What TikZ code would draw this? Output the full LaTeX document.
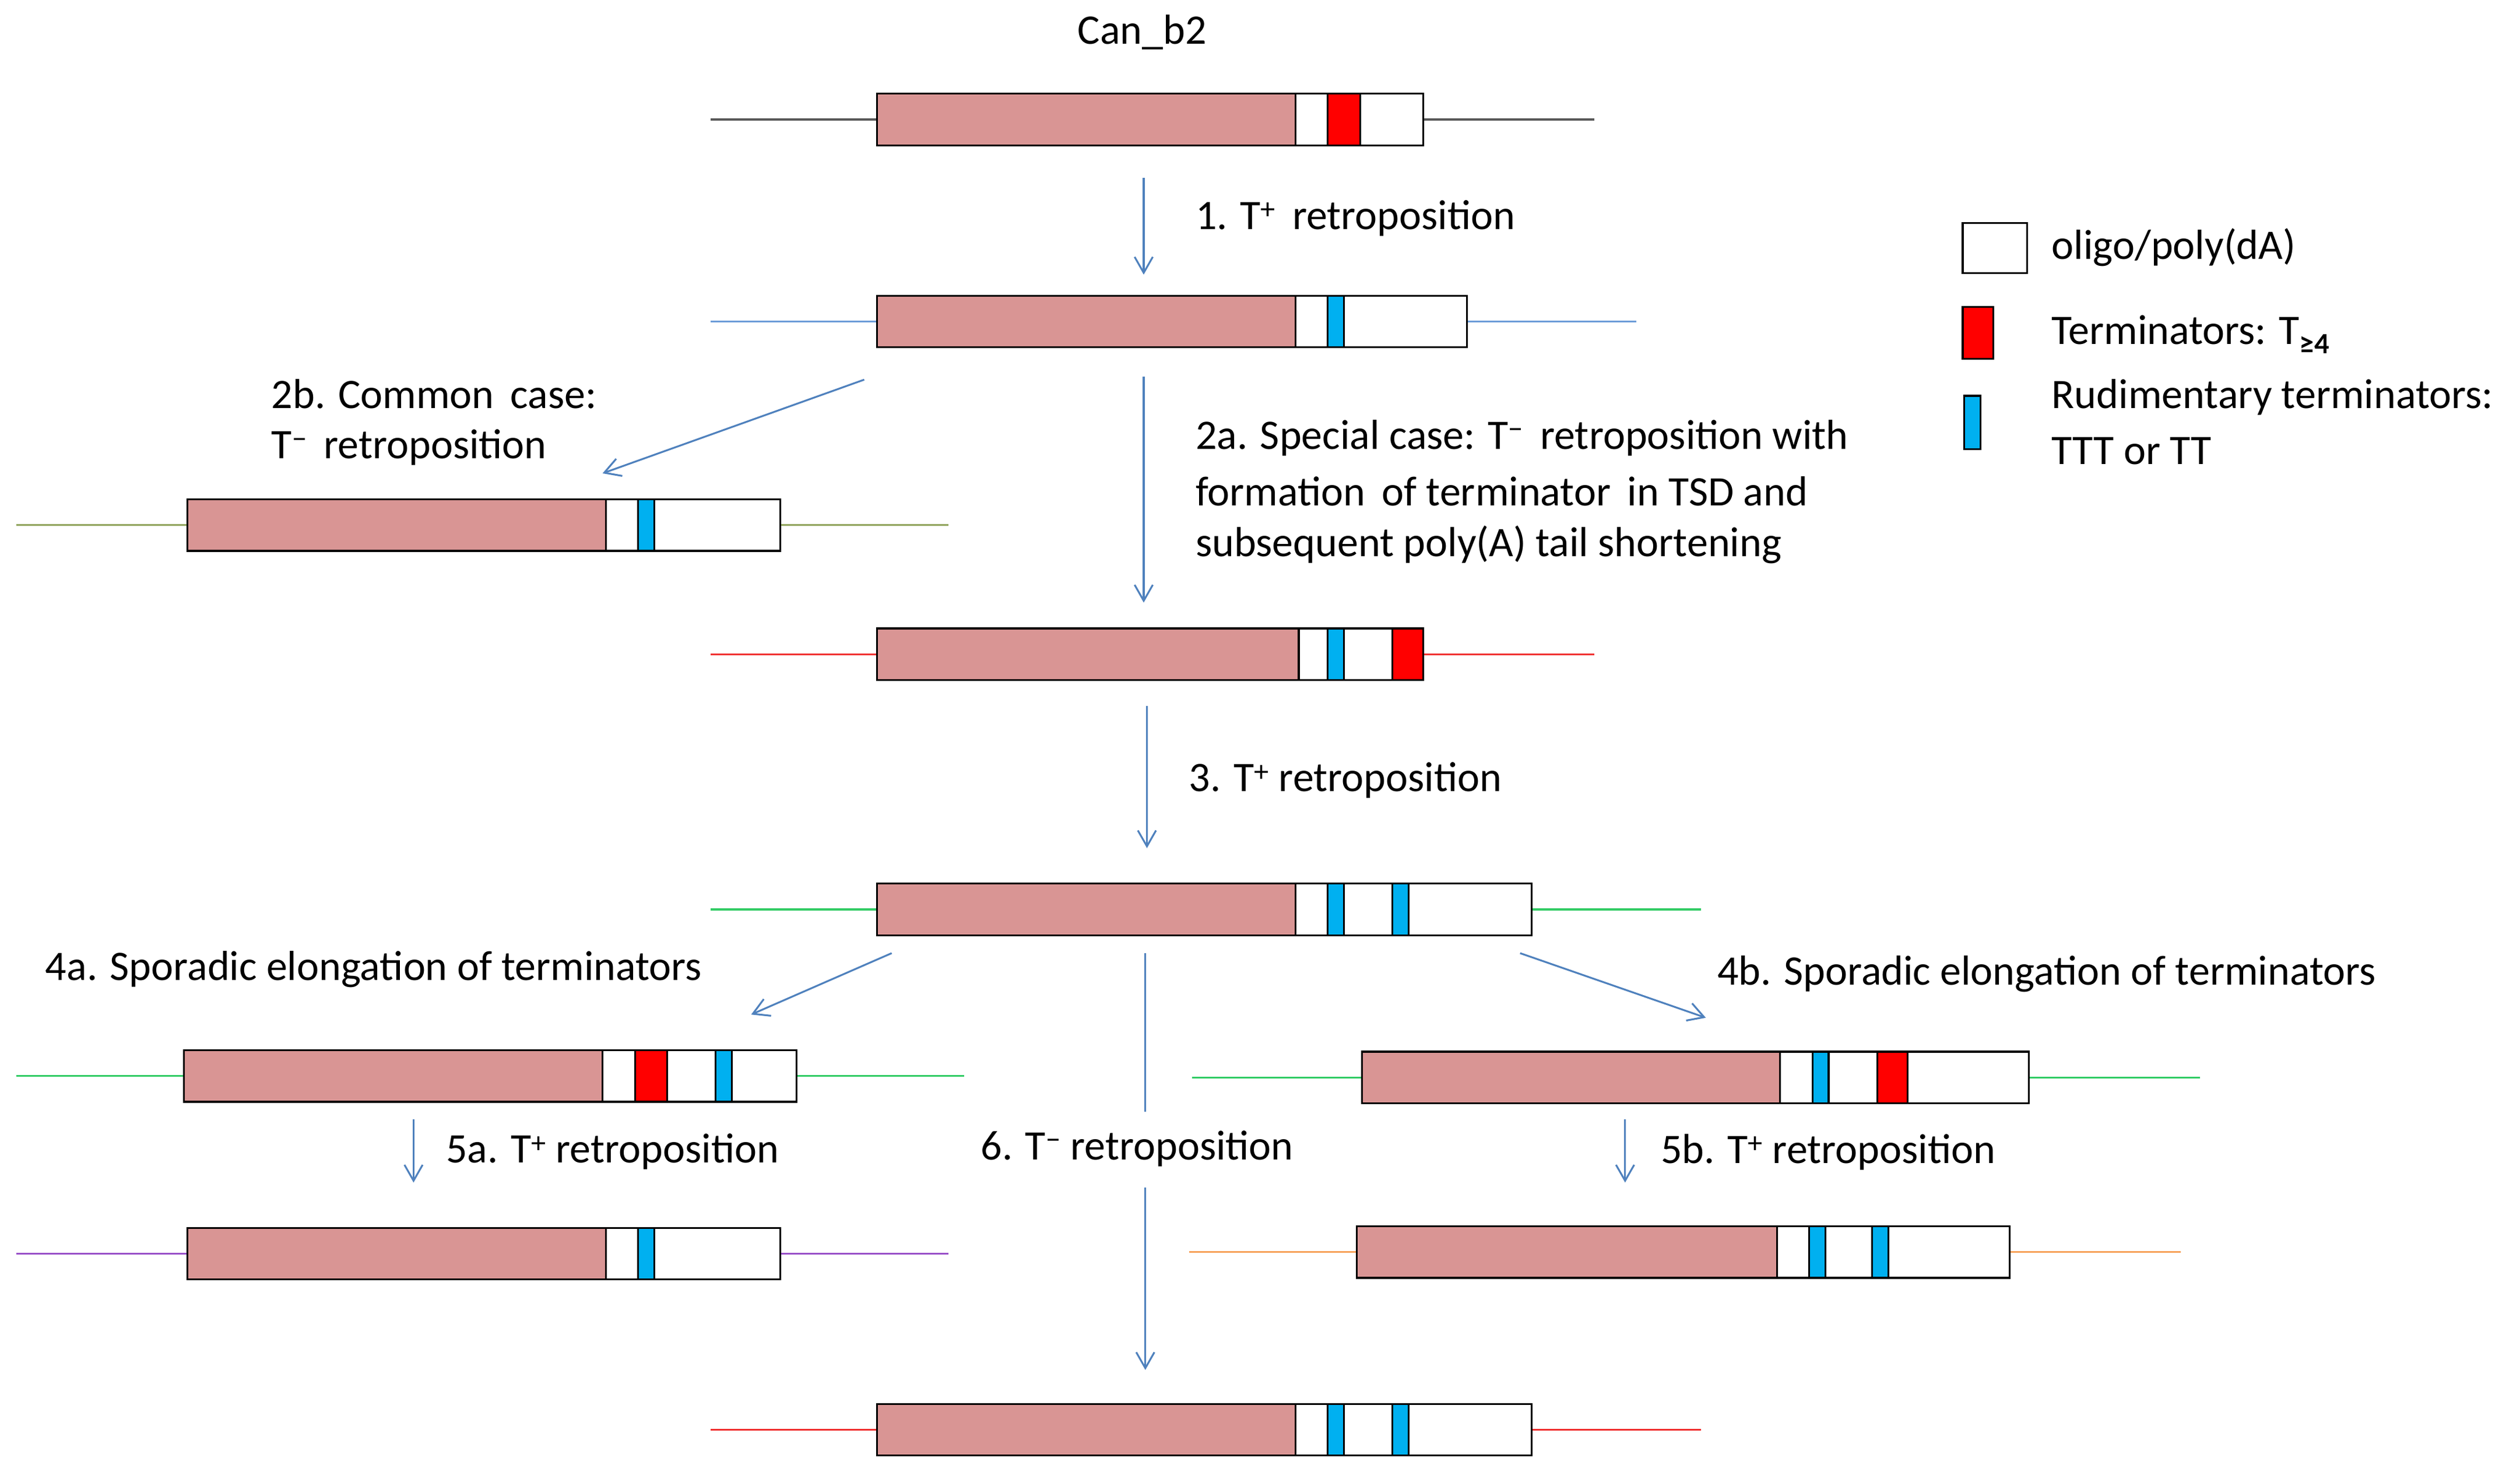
\documentclass[tikz,border=0pt]{standalone}
\usepackage{fontspec}
\setmainfont{Carlito}
\usetikzlibrary{arrows.meta}
\definecolor{pk}{HTML}{D99594}
\definecolor{ar}{HTML}{4F81BD}
\definecolor{tb}{HTML}{00B0F0}
\definecolor{lgray}{HTML}{595959}
\definecolor{lblue}{HTML}{6A9BD8}
\definecolor{lolive}{HTML}{8FA35A}
\definecolor{lred}{HTML}{F03030}
\definecolor{lgreen}{HTML}{33CC66}
\definecolor{lpurple}{HTML}{9A52C9}
\definecolor{lorange}{HTML}{F7A35C}
\begin{document}
\begin{tikzpicture}[x={(0.05cm,0)},y={(0,-0.05cm)},
  box/.style={draw=black,line width=1.6pt},
  fl/.style={line width=1.8pt},
  arr/.style={draw=ar,line width=1.6pt,-{Straight Barb[length=14pt,width=16pt]}},
  lab/.style={anchor=west,inner sep=0,font=\fontsize{37}{44}\selectfont}]
\useasboundingbox (0,0) rectangle (1560,911);
\newcommand\gene[8]{%
  \draw[fl,#2] (#3,#1) -- (#4,#1);
  \fill[pk] (#5,#1-16) rectangle (#6,#1+16);
  \draw[box] (#5,#1-16) rectangle (#6,#1+16);
  \draw[box,fill=white] (#6,#1-16) rectangle (#7,#1+16);
  \foreach \a/\b/\c in {#8}{\draw[box,fill=\c] (\a,#1-16) rectangle (\b,#1+16);}
}
\node[lab,anchor=center] (t0) at (707,20) {Can\_b2};
\gene{74}{lgray}{440}{987}{543}{802}{881}{822/842/red}
\gene{199}{lblue}{440}{1013}{543}{802}{908}{822/832/tb}
\gene{325}{lolive}{10}{587}{116}{375}{483}{395/405/tb}
\gene{405}{lred}{440}{987}{543}{804}{881}{822/832/tb,862/881/red}
\gene{563}{lgreen}{440}{1053}{543}{802}{948}{822/832/tb,862/872/tb}
\gene{666}{lgreen}{10}{597}{114}{373}{493}{393/413/red,443/453/tb}
\gene{667}{lgreen}{738}{1362}{843}{1102}{1256}{1122/1132/tb,1162/1181/red}
\gene{776}{lpurple}{10}{587}{116}{375}{483}{395/405/tb}
\gene{775}{lorange}{736}{1350}{840}{1100}{1244}{1120/1130/tb,1159/1169/tb}
\gene{885}{lred}{440}{1053}{543}{802}{948}{822/832/tb,862/872/tb}
% arrows
\coordinate (a1s) at (708,110); \coordinate (a1e) at (708,170);
\draw[arr] (a1s) -- (a1e);
\node[lab] (l1) at (740,135) {1. T\textsuperscript{+}\, retroposition};
\coordinate (b2s) at (535,235); \coordinate (b2e) at (373,293);
\draw[arr] (b2s) -- (b2e);
\node[lab] (l2b1) at (168,244) {2b. Common\, case:};
\node[lab] (l2b2) at (168,277) {T\textsuperscript{−}\, retroposition};
\coordinate (a2s) at (708,233); \coordinate (a2e) at (708,373);
\draw[arr] (a2s) -- (a2e);
\node[lab] (l2a1) at (740,271) {2a. Special case: T\textsuperscript{−}\, retroposition with};
\node[lab] (l2a2) at (740,304) {formation\, of terminator\, in TSD and};
\node[lab] (l2a3) at (740,337) {subsequent poly(A) tail shortening};
\coordinate (a3s) at (710,437); \coordinate (a3e) at (710,525);
\draw[arr] (a3s) -- (a3e);
\node[lab] (l3) at (736,483) {3. T\textsuperscript{+} retroposition};
\coordinate (a4s) at (552,590); \coordinate (a4e) at (465,628);
\draw[arr] (a4s) -- (a4e);
\node[lab] (l4a) at (28,600) {4a. Sporadic elongation of terminators};
\coordinate (b4s) at (941,590); \coordinate (b4e) at (1056,630);
\draw[arr] (b4s) -- (b4e);
\node[lab] (l4b) at (1063,603) {4b. Sporadic elongation of terminators};
\coordinate (a6s) at (709,590); \coordinate (a6m) at (709,688);
\draw[draw=ar,line width=1.6pt] (a6s) -- (a6m);
\node[lab] (l6) at (607,711) {6. T\textsuperscript{−} retroposition};
\coordinate (a6t) at (709,735); \coordinate (a6e) at (709,848);
\draw[arr] (a6t) -- (a6e);
\coordinate (a5s) at (256,693); \coordinate (a5e) at (256,732);
\draw[arr] (a5s) -- (a5e);
\node[lab] (l5a) at (276,713) {5a. T\textsuperscript{+} retroposition};
\coordinate (b5s) at (1006,693); \coordinate (b5e) at (1006,732);
\draw[arr] (b5s) -- (b5e);
\node[lab] (l5b) at (1028,713) {5b. T\textsuperscript{+} retroposition};
% legend
\draw[box,fill=white] (1215,138) rectangle (1255,169);
\node[lab] (g1) at (1270,153) {oligo/poly(dA)};
\draw[box,fill=red] (1215,190) rectangle (1234,222);
\node[lab] (g2) at (1270,207) {Terminators: T\textsubscript{\textbf{≥4}}};
\draw[box,fill=tb] (1216,245) rectangle (1226,278);
\node[lab] (g3) at (1270,246) {Rudimentary terminators:};
\node[lab] (g4) at (1270,279) {TTT or TT};
\end{tikzpicture}
\end{document}
